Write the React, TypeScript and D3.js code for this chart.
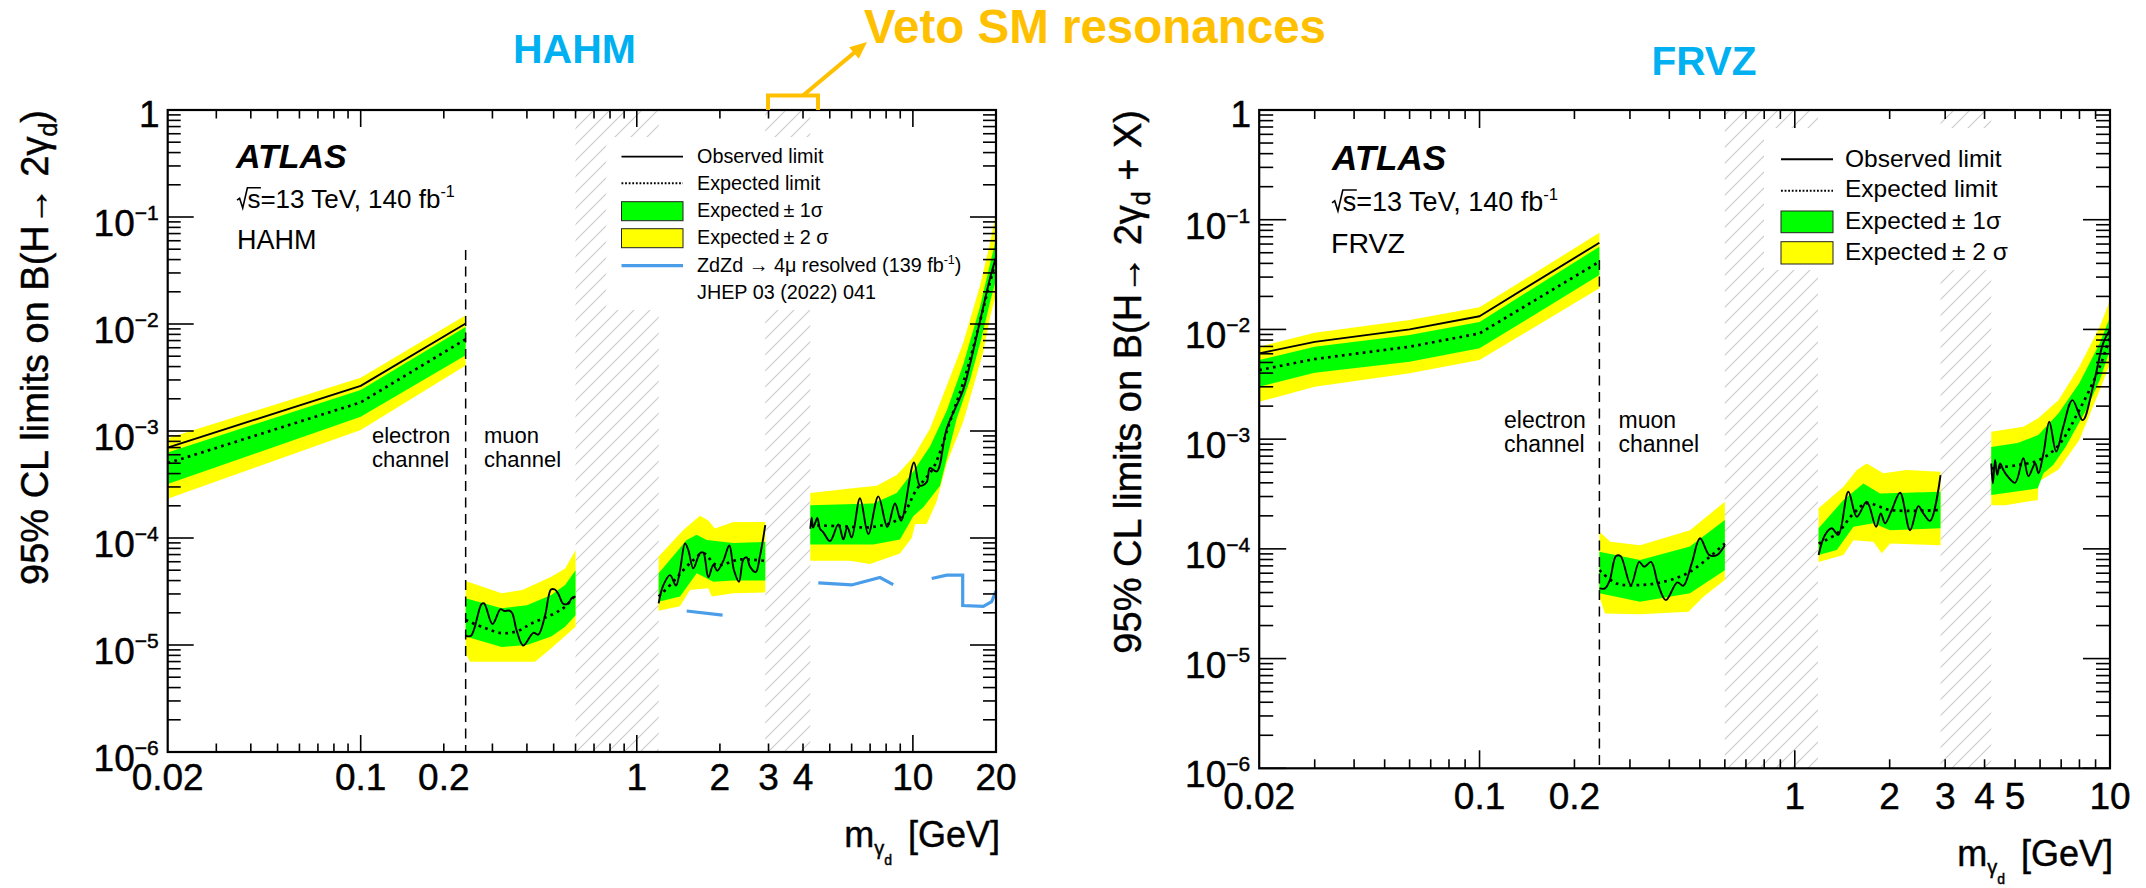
import React from "react";
import * as d3 from "d3";

type Pt = [number, number];

// ---------------- HAHM limits (mass in GeV, branching ratio) ----------------
// electron channel
const hahmElecObs: Pt[] = [[0.02, 7.0e-4], [0.1, 2.64e-3], [0.24, 1.01e-2]];
const hahmElecExp: Pt[] = [[0.02, 5.0e-4], [0.1, 1.85e-3], [0.24, 7.2e-3]];
const hahmElec1Hi: Pt[] = [[0.02, 6.3e-4], [0.1, 2.42e-3], [0.24, 9.4e-3]];
const hahmElec1Lo: Pt[] = [[0.02, 3.2e-4], [0.1, 1.36e-3], [0.24, 5.1e-3]];
const hahmElec2Hi: Pt[] = [[0.02, 8.55e-4], [0.1, 3.15e-3], [0.24, 1.21e-2]];
const hahmElec2Lo: Pt[] = [[0.02, 2.33e-4], [0.1, 1.02e-3], [0.24, 4.1e-3]];

// muon channel, 0.24-0.6 GeV
const hahmMuAObs: Pt[] = [[0.24, 1.22e-5], [0.251, 1.22e-5], [0.274, 2.42e-5], [0.28, 2.45e-5], [0.3, 1.57e-5], [0.321, 2.16e-5], [0.331, 2.08e-5], [0.345, 2.1e-5], [0.354, 1.98e-5], [0.367, 1.37e-5], [0.388, 9.9e-6], [0.422, 1.3e-5], [0.44, 1.25e-5], [0.465, 1.87e-5], [0.489, 3.3e-5], [0.505, 3.3e-5], [0.52, 3.0e-5], [0.542, 2.42e-5], [0.565, 2.45e-5], [0.581, 2.73e-5], [0.6, 2.85e-5]];
const hahmMuAExp: Pt[] = [[0.24, 1.71e-5], [0.28, 1.45e-5], [0.324, 1.29e-5], [0.37, 1.35e-5], [0.416, 1.59e-5], [0.505, 1.98e-5], [0.55, 2.28e-5], [0.6, 2.94e-5]];
const hahmMuA1Hi: Pt[] = [[0.24, 2.73e-5], [0.324, 2.2e-5], [0.4, 2.35e-5], [0.49, 2.94e-5], [0.55, 3.64e-5], [0.6, 5.0e-5]];
const hahmMuA1Lo: Pt[] = [[0.24, 1.2e-5], [0.324, 9.6e-6], [0.4, 1.0e-5], [0.49, 1.2e-5], [0.55, 1.48e-5], [0.6, 1.9e-5]];
const hahmMuA2Hi: Pt[] = [[0.24, 3.96e-5], [0.324, 3.04e-5], [0.385, 3.27e-5], [0.49, 4.35e-5], [0.55, 5.2e-5], [0.6, 7.7e-5]];
const hahmMuA2Lo: Pt[] = [[0.24, 8.35e-6], [0.249, 6.98e-6], [0.428, 6.98e-6], [0.49, 9.3e-6], [0.6, 1.48e-5]];

// muon channel, 1.2-2.9 GeV
const hahmMuBObs: Pt[] = [[1.2, 2.45e-5], [1.247, 3.6e-5], [1.319, 4.5e-5], [1.387, 3.6e-5], [1.434, 5.0e-5], [1.495, 8.9e-5], [1.537, 7.7e-5], [1.602, 5.2e-5], [1.694, 7.2e-5], [1.741, 7.3e-5], [1.816, 4.3e-5], [1.893, 5.6e-5], [1.957, 4.95e-5], [2.057, 6.1e-5], [2.163, 8.5e-5], [2.249, 5.0e-5], [2.345, 3.9e-5], [2.431, 6.3e-5], [2.5, 6.6e-5], [2.57, 5.4e-5], [2.696, 4.8e-5], [2.794, 6.8e-5], [2.92, 1.32e-4]];
const hahmMuBExp: Pt[] = [[1.2, 2.84e-5], [1.356, 3.9e-5], [1.474, 5.0e-5], [1.6, 6.2e-5], [1.741, 7.2e-5], [1.947, 5.6e-5], [2.365, 6.3e-5], [2.92, 6.1e-5]];
const hahmMuB1Hi: Pt[] = [[1.2, 4.68e-5], [1.516, 9.6e-5], [1.648, 1.07e-4], [1.791, 9.6e-5], [2.236, 9.0e-5], [2.92, 9.2e-5]];
const hahmMuB1Lo: Pt[] = [[1.2, 2.54e-5], [1.434, 2.84e-5], [1.648, 4.68e-5], [1.893, 3.9e-5], [2.236, 4.0e-5], [2.92, 4.0e-5]];
const hahmMuB2Hi: Pt[] = [[1.2, 6.7e-5], [1.474, 1.19e-4], [1.694, 1.61e-4], [1.816, 1.46e-4], [1.919, 1.23e-4], [2.236, 1.41e-4], [2.92, 1.41e-4]];
const hahmMuB2Lo: Pt[] = [[1.2, 2.09e-5], [1.434, 2.3e-5], [1.558, 3.27e-5], [1.816, 3.4e-5], [1.868, 2.84e-5], [2.236, 3.04e-5], [2.92, 3.1e-5]];

// muon channel, 4.25-20 GeV
const hahmMuCObs: Pt[] = [[4.25, 1.22e-4], [4.3, 1.55e-4], [4.35, 1.25e-4], [4.42, 1.37e-4], [4.507, 1.54e-4], [4.609, 1.22e-4], [4.738, 1.13e-4], [5.01, 9.35e-5], [5.37, 1.34e-4], [5.6, 9.7e-5], [5.787, 1.27e-4], [6.003, 1.01e-4], [6.433, 2.35e-4], [6.894, 1.09e-4], [7.495, 2.45e-4], [8.08, 1.27e-4], [8.613, 2.1e-4], [9.06, 1.45e-4], [10.09, 5.08e-4], [10.61, 3.08e-4], [11.22, 3.33e-4], [11.53, 4.52e-4], [12.2, 4.19e-4], [13.26, 1.05e-3], [15.23, 2.45e-3], [16.33, 4.9e-3], [17.5, 1.06e-2], [19.02, 2.66e-2], [20, 4.22e-2]];
const hahmMuCExp: Pt[] = [[4.25, 1.32e-4], [5.445, 1.29e-4], [7.19, 1.27e-4], [8.98, 1.54e-4], [10.32, 2.85e-4], [11.86, 4.52e-4], [13.63, 1.23e-3], [15.66, 3.6e-3], [17.5, 1.06e-2], [19.02, 2.46e-2], [20, 3.9e-2]];
const hahmMuC1Hi: Pt[] = [[4.25, 2.02e-4], [7.19, 2.1e-4], [8.74, 2.64e-4], [10.03, 4.19e-4], [11.53, 7.18e-4], [13.26, 1.55e-3], [15.23, 4.2e-3], [17.5, 1.44e-2], [19.02, 3.61e-2], [20, 6.19e-2]];
const hahmMuC1Lo: Pt[] = [[4.25, 8.7e-5], [7.19, 8.7e-5], [8.98, 9.7e-5], [10.03, 1.6e-4], [10.91, 1.94e-4], [12.54, 3.08e-4], [14.41, 1.3e-3], [16.1, 3.0e-3], [17.75, 7.5e-3], [19.02, 1.6e-2], [20, 2.6e-2]];
const hahmMuC2Hi: Pt[] = [[4.25, 2.64e-4], [5.919, 2.9e-4], [7.396, 3.08e-4], [8.74, 3.88e-4], [10.03, 5.7e-4], [11.53, 1.05e-3], [13.26, 2.65e-3], [15.23, 6.7e-3], [17.5, 2.28e-2], [19.02, 5.7e-2], [20, 1.1e-1]];
const hahmMuC2Lo: Pt[] = [[4.25, 6.14e-5], [5.919, 6.14e-5], [6.99, 5.7e-5], [8.98, 7.15e-5], [9.9, 1.0e-4], [10.2, 1.35e-4], [11.22, 1.35e-4], [12.2, 2.2e-4], [13.26, 5.0e-4], [15.23, 1.23e-3], [16.33, 2.3e-3], [17.99, 5.5e-3], [19.02, 1.15e-2], [20, 1.9e-2]];

// previous ZdZd -> 4mu resolved result
const zdLowMass: Pt[] = [[1.516, 2.08e-5], [2.045, 1.9e-5]];
const zdMidMass: Pt[] = [[4.544, 3.8e-5], [6.0, 3.64e-5], [7.6, 4.27e-5], [8.49, 3.66e-5]];
const zdHighMass: Pt[] = [[11.7, 4.18e-5], [13.26, 4.5e-5], [15.15, 4.5e-5], [15.15, 2.34e-5], [17.99, 2.3e-5], [19.29, 2.54e-5], [20, 3.19e-5]];

// ---------------- FRVZ limits ----------------
const frvzElecObs: Pt[] = [[0.02, 6.05e-3], [0.03, 7.7e-3], [0.06, 1.0e-2], [0.1, 1.32e-2], [0.24, 6.17e-2]];
const frvzElecExp: Pt[] = [[0.02, 4.26e-3], [0.03, 5.37e-3], [0.06, 6.96e-3], [0.1, 9.2e-3], [0.24, 4.14e-2]];
const frvzElec1Hi: Pt[] = [[0.02, 5.26e-3], [0.03, 6.96e-3], [0.06, 8.9e-3], [0.1, 1.17e-2], [0.24, 5.67e-2]];
const frvzElec1Lo: Pt[] = [[0.02, 3.0e-3], [0.03, 4.03e-3], [0.06, 5.08e-3], [0.1, 6.73e-3], [0.24, 3.13e-2]];
const frvzElec2Hi: Pt[] = [[0.02, 6.96e-3], [0.03, 9.33e-3], [0.06, 1.22e-2], [0.1, 1.59e-2], [0.24, 7.6e-2]];
const frvzElec2Lo: Pt[] = [[0.02, 2.19e-3], [0.03, 3.0e-3], [0.06, 3.98e-3], [0.1, 5.26e-3], [0.24, 2.37e-2]];

const frvzMuAObs: Pt[] = [[0.24, 4.36e-5], [0.25, 4.36e-5], [0.259, 5.2e-5], [0.271, 8.6e-5], [0.28, 8.6e-5], [0.302, 4.68e-5], [0.321, 7.6e-5], [0.333, 6.87e-5], [0.35, 7.6e-5], [0.369, 4.68e-5], [0.39, 3.41e-5], [0.424, 4.95e-5], [0.443, 4.61e-5], [0.471, 7.37e-5], [0.5005, 1.25e-4], [0.536, 8.78e-5], [0.566, 8.78e-5], [0.6, 1.08e-4]];
const frvzMuAExp: Pt[] = [[0.24, 6.4e-5], [0.272, 4.84e-5], [0.323, 4.68e-5], [0.383, 5.0e-5], [0.465, 6.18e-5], [0.6, 1.12e-4]];
const frvzMuA1Hi: Pt[] = [[0.24, 9.4e-5], [0.323, 7.9e-5], [0.465, 1.05e-4], [0.6, 1.83e-4]];
const frvzMuA1Lo: Pt[] = [[0.24, 3.93e-5], [0.323, 3.3e-5], [0.465, 3.93e-5], [0.6, 6.4e-5]];
const frvzMuA2Hi: Pt[] = [[0.24, 1.43e-4], [0.26, 1.16e-4], [0.323, 1.08e-4], [0.465, 1.48e-4], [0.6, 2.69e-4]];
const frvzMuA2Lo: Pt[] = [[0.24, 3.66e-5], [0.25, 2.58e-5], [0.323, 2.53e-5], [0.46, 2.67e-5], [0.513, 3.66e-5], [0.6, 5.2e-5]];

const frvzMuBObs: Pt[] = [[1.19, 8.78e-5], [1.247, 1.34e-4], [1.31, 1.54e-4], [1.375, 1.34e-4], [1.479, 3.32e-4], [1.573, 1.96e-4], [1.692, 2.69e-4], [1.811, 1.59e-4], [1.874, 2.1e-4], [1.934, 1.71e-4], [2.031, 2.26e-4], [2.158, 3.25e-4], [2.322, 1.48e-4], [2.466, 2.45e-4], [2.559, 2.1e-4], [2.687, 1.8e-4], [2.9, 4.71e-4]];
const frvzMuBExp: Pt[] = [[1.19, 1.12e-4], [1.359, 1.38e-4], [1.535, 2.1e-4], [1.692, 2.6e-4], [2.006, 2.26e-4], [2.9, 2.26e-4]];
const frvzMuB1Hi: Pt[] = [[1.19, 1.54e-4], [1.427, 2.79e-4], [1.651, 3.95e-4], [1.864, 3.2e-4], [2.9, 3.32e-4]];
const frvzMuB1Lo: Pt[] = [[1.19, 8.78e-5], [1.359, 9.75e-5], [1.535, 1.59e-4], [1.776, 1.71e-4], [2.006, 1.48e-4], [2.9, 1.54e-4]];
const frvzMuB2Hi: Pt[] = [[1.19, 2.34e-4], [1.427, 3.68e-4], [1.573, 5.23e-4], [1.692, 6.0e-4], [1.91, 4.88e-4], [2.267, 5.23e-4], [2.9, 5.05e-4]];
const frvzMuB2Lo: Pt[] = [[1.19, 7.6e-5], [1.427, 8.78e-5], [1.535, 1.2e-4], [1.776, 1.16e-4], [1.887, 9.1e-5], [2.006, 1.12e-4], [2.9, 1.08e-4]];

const frvzMuCObs: Pt[] = [[4.2, 6.0e-4], [4.25, 3.95e-4], [4.32, 6.45e-4], [4.39, 4.7e-4], [4.48, 6.0e-4], [4.59, 5.23e-4], [4.7, 4.7e-4], [5.0, 4.0e-4], [5.31, 6.7e-4], [5.51, 4.6e-4], [5.79, 6.0e-4], [5.93, 4.88e-4], [6.15, 7.4e-4], [6.42, 1.44e-3], [6.75, 7.7e-4], [7.11, 1.3e-3], [7.6, 2.27e-3], [8.19, 1.49e-3], [8.83, 3.0e-3], [9.51, 7.47e-3], [10, 1.0e-2]];
const frvzMuCExp: Pt[] = [[4.2, 5.42e-4], [5.09, 5.8e-4], [5.92, 6.4e-4], [6.8, 8.5e-4], [7.99, 1.84e-3], [9.28, 4.57e-3], [10, 8.6e-3]];
const frvzMuC1Hi: Pt[] = [[4.2, 8.5e-4], [5.09, 9.2e-4], [5.92, 1.09e-3], [6.87, 1.72e-3], [7.99, 3.23e-3], [9.28, 7.47e-3], [10, 1.3e-2]];
const frvzMuC1Lo: Pt[] = [[4.2, 3.1e-4], [5.9, 3.56e-4], [6.15, 4.9e-4], [6.6, 5.8e-4], [7.23, 8.5e-4], [8.4, 1.84e-3], [9.28, 3.46e-3], [10, 6.5e-3]];
const frvzMuC2Hi: Pt[] = [[4.2, 1.17e-3], [5.31, 1.3e-3], [5.92, 1.55e-3], [6.87, 2.27e-3], [7.99, 4.57e-3], [9.28, 1.06e-2], [10, 1.85e-2]];
const frvzMuC2Lo: Pt[] = [[4.2, 2.5e-4], [4.65, 2.5e-4], [5.9, 2.79e-4], [5.93, 4.1e-4], [6.87, 5.3e-4], [7.99, 9.8e-4], [9.28, 2.8e-3], [10, 4.9e-3]];

// vetoed mass windows around SM resonances
const hahmVeto: Pt[] = [[0.6, 1.2], [2.92, 4.25]];
const frvzVeto: Pt[] = [[0.6, 1.185], [2.9, 4.2]];

// axis tick labels
const hahmMassLabels = [0.02, 0.1, 0.2, 1, 2, 3, 4, 10, 20];
const frvzMassLabels = [0.02, 0.1, 0.2, 1, 2, 3, 4, 5, 10];
const limitExponents = [0, -1, -2, -3, -4, -5, -6];

// electron / muon channel boundary
const channelSplit = 0.24;

const FONT = "'Liberation Sans', Arial, Helvetica, sans-serif";
const GREEN = "#00ff00";
const YELLOW = "#ffff00";
const ZD_BLUE = "#4a9de8";
const ORANGE = "#ffc000";
const TITLE_BLUE = "#00b0f0";

interface Region { obs: Pt[]; exp: Pt[]; s1hi: Pt[]; s1lo: Pt[]; s2hi: Pt[]; s2lo: Pt[]; smooth: boolean }

const hahmRegions: Region[] = [
  { obs: hahmElecObs, exp: hahmElecExp, s1hi: hahmElec1Hi, s1lo: hahmElec1Lo, s2hi: hahmElec2Hi, s2lo: hahmElec2Lo, smooth: false },
  { obs: hahmMuAObs, exp: hahmMuAExp, s1hi: hahmMuA1Hi, s1lo: hahmMuA1Lo, s2hi: hahmMuA2Hi, s2lo: hahmMuA2Lo, smooth: true },
  { obs: hahmMuBObs, exp: hahmMuBExp, s1hi: hahmMuB1Hi, s1lo: hahmMuB1Lo, s2hi: hahmMuB2Hi, s2lo: hahmMuB2Lo, smooth: true },
  { obs: hahmMuCObs, exp: hahmMuCExp, s1hi: hahmMuC1Hi, s1lo: hahmMuC1Lo, s2hi: hahmMuC2Hi, s2lo: hahmMuC2Lo, smooth: true },
];
const frvzRegions: Region[] = [
  { obs: frvzElecObs, exp: frvzElecExp, s1hi: frvzElec1Hi, s1lo: frvzElec1Lo, s2hi: frvzElec2Hi, s2lo: frvzElec2Lo, smooth: false },
  { obs: frvzMuAObs, exp: frvzMuAExp, s1hi: frvzMuA1Hi, s1lo: frvzMuA1Lo, s2hi: frvzMuA2Hi, s2lo: frvzMuA2Lo, smooth: true },
  { obs: frvzMuBObs, exp: frvzMuBExp, s1hi: frvzMuB1Hi, s1lo: frvzMuB1Lo, s2hi: frvzMuB2Hi, s2lo: frvzMuB2Lo, smooth: true },
  { obs: frvzMuCObs, exp: frvzMuCExp, s1hi: frvzMuC1Hi, s1lo: frvzMuC1Lo, s2hi: frvzMuC2Hi, s2lo: frvzMuC2Lo, smooth: true },
];

interface PanelProps {
  id: string;
  left: number; right: number; top: number; bottom: number;
  xMax: number;
  regions: Region[];
  veto: Pt[];
  zd?: Pt[][];
  massLabels: number[];
  xLabelBase: number;
  xTickMajor: number; xTickMinor: number;
  yTickMajor: number; yTickMinor: number;
  splitTop: number;
  legendBox: [number, number, number, number];
  yTitle: React.ReactNode;
  yTitleX: number;
  xTitleBase: number;
  xTitleRight: number;
}

// slight outline that gives the axis text the heavier look of the print
const HEAVY = { stroke: "#000", strokeWidth: 0.45 };

function Panel(p: PanelProps) {
  const xs = d3.scaleLog().domain([0.02, p.xMax]).range([p.left, p.right]);
  const ys = d3.scaleLog().domain([1e-6, 1]).range([p.bottom, p.top]);
  const line = d3.line<Pt>().x((d) => xs(d[0])).y((d) => ys(d[1]));
  const smoothLine = d3
    .line<Pt>()
    .x((d) => xs(d[0]))
    .y((d) => ys(d[1]))
    .curve(d3.curveCatmullRom.alpha(0.5));
  const band = (hi: Pt[], lo: Pt[]) => (line([...hi, ...lo.slice().reverse()]) || "") + "Z";

  const xTicks: { v: number; major: boolean }[] = [];
  for (let e = -2; e <= 1; e++) {
    for (let k = 1; k <= 9; k++) {
      const v = +(k * Math.pow(10, e)).toPrecision(6);
      if (v > 0.02 * 1.0001 && v < p.xMax * 0.9999) xTicks.push({ v, major: k === 1 });
    }
  }
  const yTicks: { v: number; major: boolean }[] = [];
  for (let e = -6; e <= 0; e++) {
    for (let k = 1; k <= 9; k++) {
      const v = k * Math.pow(10, e);
      if (v <= 1.0001) yTicks.push({ v, major: k === 1 });
    }
  }
  const clipId = `clip-${p.id}`;
  const hatchId = `hatch-${p.id}`;
  const H = 16;

  return (
    <g>
      <defs>
        <clipPath id={clipId}>
          <rect x={p.left} y={p.top} width={p.right - p.left} height={p.bottom - p.top} />
        </clipPath>
        <pattern id={hatchId} patternUnits="userSpaceOnUse" width={H} height={H}>
          <path d={`M-2,2 L2,-2 M0,${H} L${H},0 M${H - 2},${H + 2} L${H + 2},${H - 2}`} stroke="#cacaca" strokeWidth={1.1} />
        </pattern>
      </defs>

      {/* vetoed windows */}
      {p.veto.map(([a, b], i) => (
        <rect key={i} x={xs(a)} y={p.top} width={xs(b) - xs(a)} height={p.bottom - p.top} fill={`url(#${hatchId})`} />
      ))}
      {/* legend background */}
      <rect x={p.legendBox[0]} y={p.legendBox[1]} width={p.legendBox[2]} height={p.legendBox[3]} fill="#fff" />

      <g clipPath={`url(#${clipId})`}>
        {p.regions.map((r, i) => (
          <path key={`y${i}`} d={band(r.s2hi, r.s2lo)} fill={YELLOW} />
        ))}
        {p.regions.map((r, i) => (
          <path key={`g${i}`} d={band(r.s1hi, r.s1lo)} fill={GREEN} />
        ))}
        {p.regions.map((r, i) => (
          <path key={`e${i}`} d={(r.smooth ? smoothLine : line)(r.exp) || ""} fill="none" stroke="#000" strokeWidth={2.7} strokeDasharray="2.7 4.3" />
        ))}
        {p.regions.map((r, i) => (
          <path key={`o${i}`} d={(r.smooth ? smoothLine : line)(r.obs) || ""} fill="none" stroke="#000" strokeWidth={1.9} strokeLinejoin="round" />
        ))}
        {p.zd &&
          p.zd.map((seg, i) => (
            <path key={`z${i}`} d={line(seg) || ""} fill="none" stroke={ZD_BLUE} strokeWidth={3.2} />
          ))}
      </g>

      {/* channel boundary */}
      <line x1={xs(channelSplit)} x2={xs(channelSplit)} y1={p.splitTop} y2={p.bottom} stroke="#000" strokeWidth={1.5} strokeDasharray="10 6.5" />

      {/* ticks */}
      <g stroke="#000" strokeWidth={1.6}>
        {xTicks.map((t, i) => {
          const x = xs(t.v);
          const len = t.major ? p.xTickMajor : p.xTickMinor;
          return (
            <g key={`xt${i}`}>
              <line x1={x} x2={x} y1={p.bottom} y2={p.bottom - len} />
              <line x1={x} x2={x} y1={p.top} y2={p.top + len} />
            </g>
          );
        })}
        {yTicks.map((t, i) => {
          const y = ys(t.v);
          const len = t.major ? p.yTickMajor : p.yTickMinor;
          return (
            <g key={`yt${i}`}>
              <line x1={p.left} x2={p.left + len} y1={y} y2={y} />
              <line x1={p.right} x2={p.right - len} y1={y} y2={y} />
            </g>
          );
        })}
      </g>
      <rect x={p.left} y={p.top} width={p.right - p.left} height={p.bottom - p.top} fill="none" stroke="#000" strokeWidth={2.2} />

      {/* tick labels */}
      <g fontFamily={FONT} fontSize={37} fill="#000" {...HEAVY}>
        {p.massLabels.map((v) => (
          <text key={`xl${v}`} x={xs(v)} y={p.xLabelBase} textAnchor="middle">
            {String(v)}
          </text>
        ))}
        {limitExponents.map((e) => {
          const y = ys(Math.pow(10, e));
          if (e === 0) {
            return (
              <text key="yl0" x={p.left - 8} y={y + 17} textAnchor="end">
                1
              </text>
            );
          }
          return (
            <text key={`yl${e}`} x={p.left - 9} y={y + 19} textAnchor="end">
              10
              <tspan fontSize={21} dy={-16}>
                {`\u2212${-e}`}
              </tspan>
            </text>
          );
        })}
      </g>

      {/* axis titles */}
      <text
        transform={`translate(${p.yTitleX},${p.top}) rotate(-90)`}
        textAnchor="end"
        fontFamily={FONT}
        fontSize={38}
        {...HEAVY}
      >
        {p.yTitle}
      </text>
      <text x={p.xTitleRight} y={p.xTitleBase} textAnchor="end" fontFamily={FONT} fontSize={36} {...HEAVY}>
        m
        <tspan fontSize={20} dy={8}>γ</tspan>
        <tspan fontSize={14} dy={10}>d</tspan>
        <tspan dy={-18} dx={6}> [GeV]</tspan>
      </text>
    </g>
  );
}

function SqrtS({ x, base, size }: { x: number; base: number; size: number }) {
  const cap = 0.72 * size;
  const rw = 0.4 * size;
  const sw = 0.52 * size;
  const d = `M${x},${base - 0.42 * cap} L${x + 0.1 * size},${base - 0.52 * cap} L${x + 0.22 * size},${base} L${x + rw},${base - cap - 1.5} L${x + rw + sw},${base - cap - 1.5}`;
  return (
    <g>
      <path d={d} fill="none" stroke="#000" strokeWidth={1.6} strokeLinejoin="miter" />
      <text x={x + rw} y={base} fontFamily={FONT} fontSize={size}>
        s=13 TeV, 140 fb
        <tspan fontSize={size * 0.62} dy={-size * 0.42}>-1</tspan>
      </text>
    </g>
  );
}

function Arrow({ x1, y1, x2, y2, color }: { x1: number; y1: number; x2: number; y2: number; color: string }) {
  const dx = x2 - x1;
  const dy = y2 - y1;
  const L = Math.hypot(dx, dy);
  const ux = dx / L;
  const uy = dy / L;
  const head = 17;
  const half = 7.5;
  const bx = x2 - head * ux;
  const by = y2 - head * uy;
  const pts = [
    [x2, y2],
    [bx - half * uy, by + half * ux],
    [bx + half * uy, by - half * ux],
  ]
    .map((q) => q.join(","))
    .join(" ");
  return (
    <g>
      <line x1={x1} y1={y1} x2={bx + 2 * ux} y2={by + 2 * uy} stroke={color} strokeWidth={4} />
      <polygon points={pts} fill={color} />
    </g>
  );
}

export default function App() {
  return (
    <svg
      width={2146}
      height={888}
      style={{ position: "absolute", left: 0, top: 0, background: "#fff" }}
      fontFamily={FONT}
    >
      <rect x={0} y={0} width={2146} height={888} fill="#fff" />

      {/* ---------- HAHM panel ---------- */}
      <Panel
        id="hahm"
        left={167.7}
        right={996}
        top={110}
        bottom={752}
        xMax={20}
        regions={hahmRegions}
        veto={hahmVeto}
        zd={[zdLowMass, zdMidMass, zdHighMass]}
        massLabels={hahmMassLabels}
        xLabelBase={790}
        xTickMajor={17}
        xTickMinor={8.5}
        yTickMajor={26}
        yTickMinor={13}
        splitTop={250}
        legendBox={[606, 137, 354, 173]}
        yTitle={
          <>
            95% CL limits on B(H→ 2γ
            <tspan fontSize={25} dy={9}>d</tspan>
            <tspan dy={-9}>)</tspan>
          </>
        }
        yTitleX={48}
        xTitleBase={847}
        xTitleRight={1000}
      />

      {/* ---------- FRVZ panel ---------- */}
      <Panel
        id="frvz"
        left={1259.2}
        right={2110}
        top={110}
        bottom={768.3}
        xMax={10}
        regions={frvzRegions}
        veto={frvzVeto}
        massLabels={frvzMassLabels}
        xLabelBase={809}
        xTickMajor={18}
        xTickMinor={9}
        yTickMajor={27}
        yTickMinor={14}
        splitTop={260}
        legendBox={[1764, 128, 300, 142]}
        yTitle={
          <>
            95% CL limits on B(H→ 2γ
            <tspan fontSize={25} dy={9}>d</tspan>
            <tspan dy={-9}> + X)</tspan>
          </>
        }
        yTitleX={1141}
        xTitleBase={866}
        xTitleRight={2113}
      />

      {/* ---------- HAHM labels and legend ---------- */}
      <text x={236} y={168} fontFamily={FONT} fontSize={34} fontWeight="bold" fontStyle="italic">ATLAS</text>
      <SqrtS x={237} base={208} size={26} />
      <text x={237} y={249} fontFamily={FONT} fontSize={27}>HAHM</text>
      <g fontFamily={FONT} fontSize={22}>
        <text x={372} y={443}>electron</text>
        <text x={372} y={467}>channel</text>
        <text x={484} y={443}>muon</text>
        <text x={484} y={467}>channel</text>
      </g>
      <g fontFamily={FONT} fontSize={19.8}>
        <line x1={621.5} x2={683} y1={156.7} y2={156.7} stroke="#000" strokeWidth={1.8} />
        <text x={697} y={163}>Observed limit</text>
        <line x1={621.5} x2={683} y1={183.3} y2={183.3} stroke="#000" strokeWidth={2} strokeDasharray="1.8 1.8" />
        <text x={697} y={190}>Expected limit</text>
        <rect x={621.5} y={201.7} width={61.5} height={19} fill={GREEN} stroke="#222" strokeWidth={1} />
        <text x={697} y={217}>Expected{"\u2009"}± 1σ</text>
        <rect x={621.5} y={228.7} width={61.5} height={19} fill={YELLOW} stroke="#222" strokeWidth={1} />
        <text x={697} y={244}>Expected{"\u2009"}± 2 σ</text>
        <line x1={621.5} x2={683} y1={265.7} y2={265.7} stroke={ZD_BLUE} strokeWidth={3.2} />
        <text x={697} y={272}>
          ZdZd → 4μ resolved (139 fb
          <tspan fontSize={12.5} dy={-8}>-1</tspan>
          <tspan dy={8}>)</tspan>
        </text>
        <text x={697} y={299}>JHEP 03 (2022) 041</text>
      </g>

      {/* ---------- FRVZ labels and legend ---------- */}
      <text x={1332} y={170} fontFamily={FONT} fontSize={35} fontWeight="bold" fontStyle="italic">ATLAS</text>
      <SqrtS x={1332} base={211} size={27} />
      <text x={1331} y={252.7} fontFamily={FONT} fontSize={28.5}>FRVZ</text>
      <g fontFamily={FONT} fontSize={23}>
        <text x={1504} y={428}>electron</text>
        <text x={1504} y={452}>channel</text>
        <text x={1618.5} y={428}>muon</text>
        <text x={1618.5} y={452}>channel</text>
      </g>
      <g fontFamily={FONT} fontSize={24.5}>
        <line x1={1781} x2={1833} y1={159.3} y2={159.3} stroke="#000" strokeWidth={1.9} />
        <text x={1845} y={166.5}>Observed limit</text>
        <line x1={1781} x2={1833} y1={190.7} y2={190.7} stroke="#000" strokeWidth={2} strokeDasharray="1.8 1.8" />
        <text x={1845} y={197}>Expected limit</text>
        <rect x={1781} y={211} width={52} height={21.7} fill={GREEN} stroke="#222" strokeWidth={1} />
        <text x={1845} y={229}>Expected{"\u2009"}± 1σ</text>
        <rect x={1781} y={241.7} width={52} height={22.3} fill={YELLOW} stroke="#222" strokeWidth={1} />
        <text x={1845} y={260}>Expected{"\u2009"}± 2 σ</text>
      </g>

      {/* ---------- headings ---------- */}
      <text x={574.5} y={63} textAnchor="middle" fontFamily={FONT} fontSize={41} fontWeight="bold" fill={TITLE_BLUE}>HAHM</text>
      <text x={1704} y={75} textAnchor="middle" fontFamily={FONT} fontSize={40.5} fontWeight="bold" fill={TITLE_BLUE}>FRVZ</text>
      <text x={864} y={43} fontFamily={FONT} fontSize={47.5} fontWeight="bold" fill={ORANGE}>Veto SM resonances</text>
      <path d="M768,110 V95.5 H818 V110" fill="none" stroke={ORANGE} strokeWidth={4} />
      <Arrow x1={803} y1={95.5} x2={867} y2={42} color={ORANGE} />
    </svg>
  );
}
